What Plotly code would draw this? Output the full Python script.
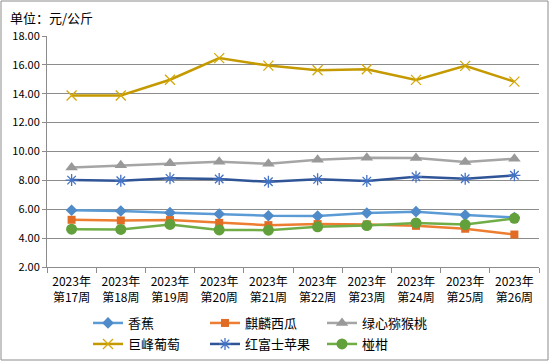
import plotly.graph_objects as go

weeks = ["2023年<br>第17周", "2023年<br>第18周", "2023年<br>第19周", "2023年<br>第20周", "2023年<br>第21周",
         "2023年<br>第22周", "2023年<br>第23周", "2023年<br>第24周", "2023年<br>第25周", "2023年<br>第26周"]

banana = [5.93, 5.88, 5.76, 5.67, 5.55, 5.53, 5.74, 5.83, 5.60, 5.43]
watermelon = [5.27, 5.22, 5.25, 5.06, 4.90, 4.97, 4.95, 4.85, 4.65, 4.25]
kiwi = [8.90, 9.04, 9.18, 9.29, 9.15, 9.43, 9.57, 9.55, 9.27, 9.50]
grape = [13.88, 13.88, 14.97, 16.47, 15.95, 15.63, 15.70, 14.96, 15.93, 14.84]
apple = [8.02, 7.97, 8.14, 8.09, 7.90, 8.07, 7.95, 8.25, 8.11, 8.35]
tangerine = [4.62, 4.60, 4.95, 4.57, 4.55, 4.78, 4.87, 5.05, 4.94, 5.37]

names = ["香蕉", "麒麟西瓜", "绿心猕猴桃", "巨峰葡萄", "红富士苹果", "椪柑"]
series = [banana, watermelon, kiwi, grape, apple, tangerine]
line_colors = ["#5B9BD5", "#ED7D31", "#A5A5A5", "#C49A00", "#2F5597", "#70AD47"]
marker_colors = ["#4F8BC9", "#E06C25", "#999999", "#D4A80A", "#4472C4", "#62A03C"]
symbols = ["diamond", "square", "triangle-up", "x-thin", "asterisk", "circle"]
sizes = [9, 8, 11, 10, 10, 11]

FONT = "Noto Sans CJK SC"

fig = go.Figure()
for i, (n, s, lc, mc, sym, sz) in enumerate(zip(names, series, line_colors, marker_colors, symbols, sizes)):
    marker = dict(symbol=sym, size=sz, color=mc)
    if sym in ("x-thin", "asterisk"):
        marker["line"] = dict(color=mc, width=1.3)
    fig.add_trace(go.Scatter(x=weeks, y=s, name=n, mode="lines+markers",
                             line=dict(color=lc, width=2.5), marker=marker,
                             legend="legend" if i < 3 else "legend2"))

W, H = 550, 362
L, R, T, B = 47, 11, 36, 95
pw, ph = W - L - R, H - T - B

fig.add_shape(type="rect", xref="paper", yref="paper",
              x0=(1 - L) / pw, x1=(W - 2 - L) / pw,
              y0=-(H - 2 - (H - B)) / ph, y1=1 + (T - 1) / ph,
              line=dict(color="#8C8C8C", width=1), fillcolor="rgba(0,0,0,0)", layer="below")

leg_common = dict(orientation="h", x=(88 - L) / pw, xanchor="left", yanchor="top",
                  font=dict(size=13, family=FONT), entrywidth=117 / pw, entrywidthmode="fraction",
                  tracegroupgap=0, bgcolor="rgba(0,0,0,0)")

fig.update_layout(
    width=W, height=H,
    margin=dict(l=L, r=R, t=T, b=B, pad=0, autoexpand=False),
    paper_bgcolor="white", plot_bgcolor="white",
    font=dict(family=FONT, size=11, color="#000000"),
    showlegend=True,
    legend=dict(y=-(308 - (H - B)) / ph, **leg_common),
    legend2=dict(y=-(329 - (H - B)) / ph, **leg_common),
    annotations=[dict(text="单位：元/公斤", xref="paper", yref="paper",
                      x=(8 - L) / pw, xanchor="left", y=1 + (T - 17) / ph, yanchor="middle",
                      showarrow=False, font=dict(size=13, family=FONT))],
)

fig.update_yaxes(range=[2, 18], dtick=2, tickformat=".2f", showgrid=True,
                 gridcolor="#8C8C8C", gridwidth=1, zeroline=False,
                 showline=True, linecolor="#8C8C8C", ticks="outside", ticklen=4,
                 tickcolor="#8C8C8C", tickfont=dict(size=11, family=FONT))
fig.update_xaxes(showline=True, linecolor="#8C8C8C", ticks="outside", ticklen=5,
                 tickcolor="#8C8C8C", tickson="boundaries", showgrid=False,
                 tickangle=0, tickfont=dict(size=12, family=FONT), ticklabelstandoff=4,
                 range=[-0.5, 9.5])

fig.write_html("out.html", config={"displayModeBar": False},
               post_script="document.body.style.margin='0';")
